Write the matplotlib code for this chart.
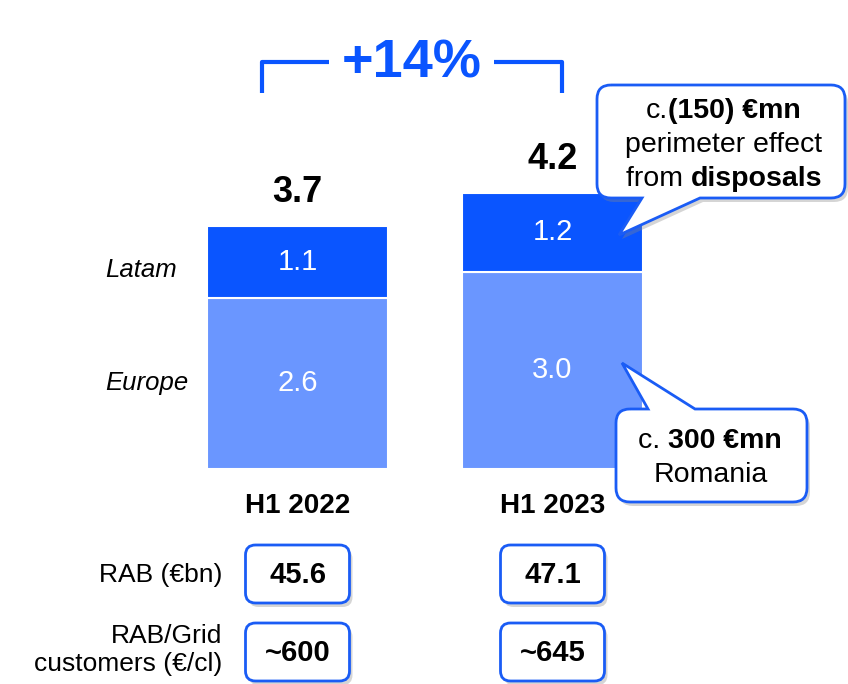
import matplotlib
matplotlib.use("Agg")
import matplotlib.pyplot as plt
import matplotlib.transforms as mtrans
from matplotlib.path import Path
from matplotlib.patches import PathPatch, FancyBboxPatch

plt.rcParams['font.family'] = ['Liberation Sans', 'DejaVu Sans']

# data
periods = ['H1 2022', 'H1 2023']
europe = [2.6, 3.0]
latam = [1.1, 1.2]
totals = ['3.7', '4.2']
growth = '+14%'
rab = ['45.6', '47.1']
rab_per_customer = ['~600', '~645']

DARK = '#0A55FF'
LIGHT = '#6A96FF'
EDGE = '#1A5CF5'

W, H = 848, 684
fig = plt.figure(figsize=(W / 100, H / 100), dpi=100)

# main axes: baseline at y=469px, 65.8 px per unit
base_px = 469
ppu = 65.8
ymax = 6.0
ax = fig.add_axes([0, (H - base_px) / H, 1, ymax * ppu / H])
x = [0, 1]
ax.set_xlim(-297.5 / 255, (W - 297.5) / 255)
ax.set_ylim(0, ymax)
ax.axis('off')

ax.bar(x, europe, width=0.71, color=LIGHT, edgecolor='white', linewidth=1.5)
ax.bar(x, latam, width=0.71, bottom=europe, color=DARK, edgecolor='white', linewidth=1.5)

for i in range(2):
    ax.text(x[i], europe[i] / 2, f'{europe[i]:.1f}', ha='center', va='center',
            color='white', fontsize=21)
    ax.text(x[i], europe[i] + latam[i] / 2, f'{latam[i]:.1f}', ha='center', va='center',
            color='white', fontsize=21)
    ax.annotate(totals[i], (x[i], europe[i] + latam[i]), xytext=(0, 11),
                textcoords='offset points', ha='center', va='bottom',
                fontsize=26, fontweight='bold')
    ax.annotate(periods[i], (x[i], 0), xytext=(0, -17), textcoords='offset points',
                ha='center', va='top', fontsize=20, fontweight='bold')

# overlay in pixel coordinates for annotations
ov = fig.add_axes([0, 0, 1, 1], zorder=5)
ov.set_xlim(0, W)
ov.set_ylim(H, 0)
ov.axis('off')
renderer = fig.canvas.get_renderer()

blend_lbl = mtrans.blended_transform_factory(ov.transData, ax.transData)
ax.text(105, europe[0] + latam[0] / 2 - 0.13, 'Latam', transform=blend_lbl,
        ha='left', va='center', fontsize=18.5, style='italic')
ax.text(105, europe[0] / 2, 'Europe', transform=blend_lbl,
        ha='left', va='center', fontsize=18.5, style='italic')

# +14% bracket
ov.plot([262, 262, 329], [93, 62, 62], color=DARK, lw=3, solid_joinstyle='round',
        solid_capstyle='butt')
ov.plot([494, 562, 562], [62, 62, 93], color=DARK, lw=3, solid_joinstyle='round',
        solid_capstyle='butt')
ov.text(412, 63, growth, ha='center', va='center', color=DARK, fontsize=39,
        fontweight='bold')


def mixed_line(xc, y, parts, size=20.5):
    # parts: list of (text, bold) drawn side by side, centred on xc
    texts = [ov.text(0, y, s, ha='left', va='center', fontsize=size,
                     fontweight='bold' if b else 'normal') for s, b in parts]
    widths = [t.get_window_extent(renderer).width for t in texts]
    cur = xc - sum(widths) / 2
    for t, w in zip(texts, widths):
        t.set_x(cur)
        cur += w


def callout(x0, y0, x1, y1, tail, edge_side, r=14):
    # rounded box with a triangular tail on the top or bottom edge
    b0, tip, b1 = tail
    v = [(x0 + r, y0)]
    c = [Path.MOVETO]
    if edge_side == 'top':
        v += [b0, tip, b1]
        c += [Path.LINETO] * 3
    v += [(x1 - r, y0), (x1, y0), (x1, y0 + r), (x1, y1 - r), (x1, y1), (x1 - r, y1)]
    c += [Path.LINETO, Path.CURVE3, Path.CURVE3, Path.LINETO, Path.CURVE3, Path.CURVE3]
    if edge_side == 'bottom':
        v += [b0, tip, b1]
        c += [Path.LINETO] * 3
    v += [(x0 + r, y1), (x0, y1), (x0, y1 - r), (x0, y0 + r), (x0, y0), (x0 + r, y0)]
    c += [Path.LINETO, Path.CURVE3, Path.CURVE3, Path.LINETO, Path.CURVE3, Path.CURVE3]
    shadow = PathPatch(Path([(a + 3, b + 4) for a, b in v], c), facecolor='#888888',
                       edgecolor='none', alpha=0.35)
    ov.add_patch(shadow)
    ov.add_patch(PathPatch(Path(v, c), facecolor='white', edgecolor=EDGE, lw=2))


callout(597, 85, 845, 198, [(700, 198), (619, 235), (642, 198)], 'bottom')
mixed_line(723, 111, [('c.', False), ('(150) €mn', True)])
mixed_line(724, 145, [('perimeter effect', False)])
mixed_line(724, 179, [('from ', False), ('disposals', True)])

callout(616, 409, 807, 502, [(648, 409), (622, 363), (695, 409)], 'top')
mixed_line(710, 441, [('c. ', False), ('300 €mn', True)])
mixed_line(711, 475, [('Romania', False)])

# RAB rows
rows = [(574, rab), (652, rab_per_customer)]
for yc, vals in rows:
    for i in range(2):
        xc = ax.transData.transform((x[i], 0))[0]
        xc = ov.transData.inverted().transform((xc, 0))[0]
        for dx, dy, fc, ec, a in [(3, 4, '#888888', 'none', 0.35), (0, 0, 'white', EDGE, 1)]:
            ov.add_patch(FancyBboxPatch((xc - 52 + dx, yc - 29 + dy), 104, 58,
                                        boxstyle='round,pad=0,rounding_size=10',
                                        facecolor=fc, edgecolor=ec, lw=2, alpha=a))
        ov.text(xc, yc + 1, vals[i], ha='center', va='center', fontsize=21,
                fontweight='bold')

ov.text(222, 575, 'RAB (€bn)', ha='right', va='center', fontsize=19)
ov.text(222, 650, 'RAB/Grid\ncustomers (€/cl)', ha='right', va='center', fontsize=19,
        multialignment='right', linespacing=1.25)

fig.savefig('out.png', dpi=100)
